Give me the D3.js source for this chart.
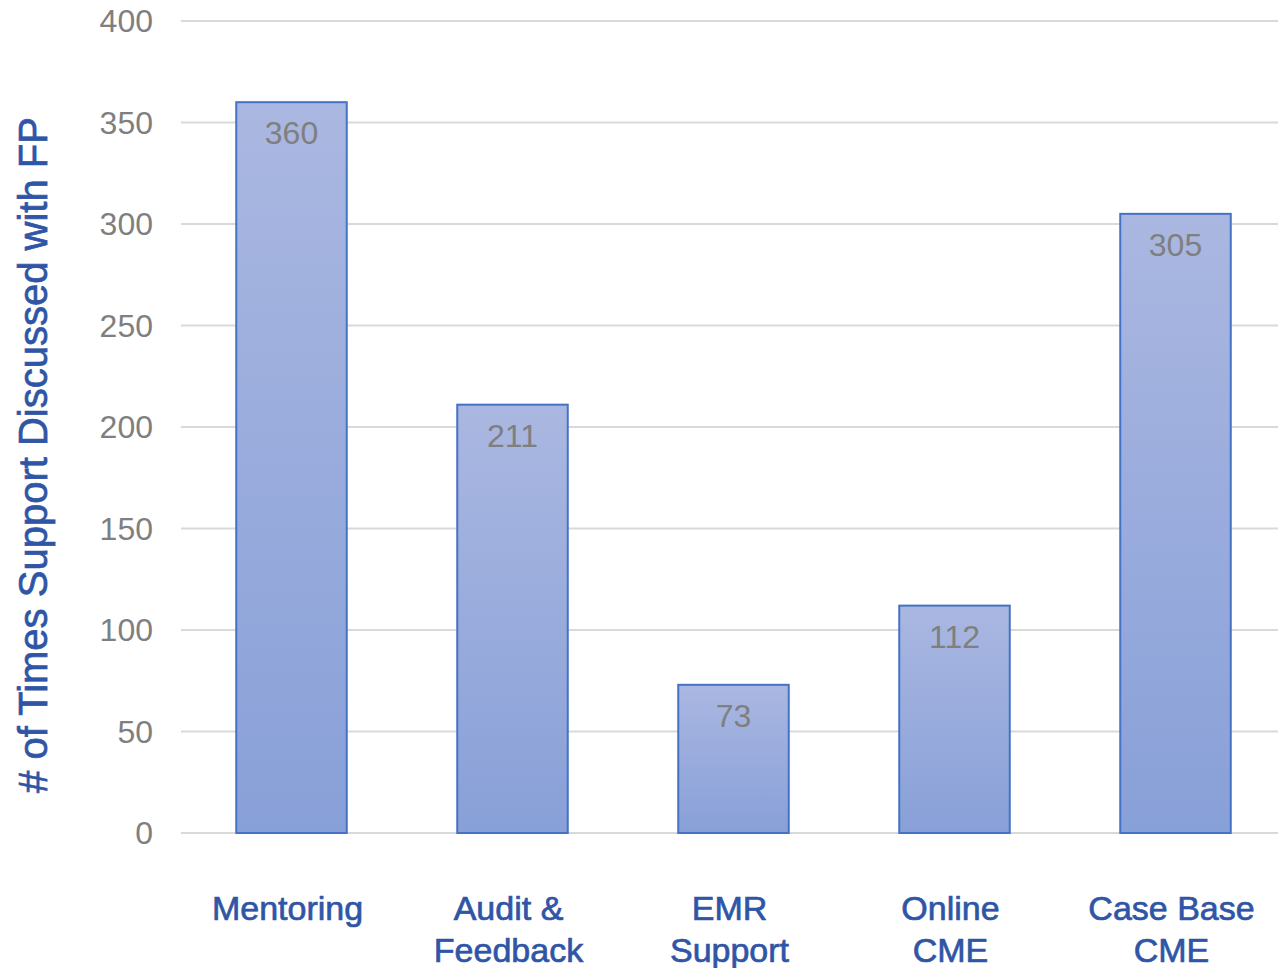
<!DOCTYPE html>
<meta charset="utf-8">
<style>
  body { margin: 0; background: #fff; }
  svg text { font-family: "Liberation Sans", Arial, sans-serif; }
  .grid line { stroke: #d9d9d9; stroke-width: 2px; }
  .bars rect { stroke: #4472c4; stroke-width: 2px; }
  .blue { fill: #2f55a6; stroke: #2f55a6; stroke-width: 0.7px; }
</style>
<svg width="1278" height="968"></svg>
<script src="https://d3js.org/d3.v7.min.js"></script>
<script>
  // data
  var categories = [["Mentoring"], ["Audit &", "Feedback"], ["EMR", "Support"], ["Online", "CME"], ["Case Base", "CME"]];
  var values = [360, 211, 73, 112, 305];
  var yTicks = [0, 50, 100, 150, 200, 250, 300, 350, 400];

  var svg = d3.select("svg");
  var plotLeft = 181, plotRight = 1286, plotTop = 21, plotBottom = 833;

  var x = d3.scaleBand()
    .domain(d3.range(values.length))
    .range([plotLeft, plotRight])
    .paddingInner(0.5)
    .paddingOuter(0.25);

  var y = d3.scaleLinear().domain([0, 400]).range([plotBottom, plotTop]);

  var defs = svg.append("defs");
  var grad = defs.append("linearGradient")
    .attr("id", "barGrad")
    .attr("x1", 0).attr("y1", 0).attr("x2", 0).attr("y2", 1);
  grad.append("stop").attr("offset", "0%").attr("stop-color", "#aab7e1");
  grad.append("stop").attr("offset", "100%").attr("stop-color", "#88a0d8");

  // gridlines
  svg.append("g")
    .attr("class", "grid")
    .selectAll("line")
    .data(yTicks)
    .enter().append("line")
    .attr("x1", plotLeft).attr("x2", 1278)
    .attr("y1", function(d) { return y(d); })
    .attr("y2", function(d) { return y(d); });

  // tick labels
  svg.append("g")
    .selectAll("text")
    .data(yTicks)
    .enter().append("text")
    .attr("x", 153)
    .attr("y", function(d) { return y(d); })
    .attr("dy", "0.35em")
    .attr("text-anchor", "end")
    .attr("fill", "#7f7f7f")
    .style("font-size", "32px")
    .text(function(d) { return d; });

  // bars
  svg.append("g")
    .attr("class", "bars")
    .selectAll("rect")
    .data(values)
    .enter().append("rect")
    .attr("x", function(d, i) { return x(i); })
    .attr("y", function(d) { return y(d); })
    .attr("width", x.bandwidth())
    .attr("height", function(d) { return y(0) - y(d); })
    .attr("fill", "url(#barGrad)");

  // value labels
  svg.append("g")
    .selectAll("text")
    .data(values)
    .enter().append("text")
    .attr("x", function(d, i) { return x(i) + x.bandwidth() / 2; })
    .attr("y", function(d) { return y(d) + 31; })
    .attr("dy", "0.35em")
    .attr("text-anchor", "middle")
    .attr("fill", "#7f7f7f")
    .style("font-size", "32px")
    .text(function(d) { return d; });

  // category labels
  var cat = svg.append("g")
    .selectAll("text")
    .data(categories)
    .enter().append("text")
    .attr("class", "blue")
    .attr("text-anchor", "middle")
    .style("font-size", "34px")
    .attr("transform", function(d, i) {
      return "translate(" + (x(i) + x.bandwidth() / 2 - 4) + ",0)";
    });
  cat.selectAll("tspan")
    .data(function(d) { return d; })
    .enter().append("tspan")
    .attr("x", 0)
    .attr("y", function(d, j) { return 908 + j * 42; })
    .attr("dy", "0.35em")
    .text(function(d) { return d; });

  // y axis title
  svg.append("text")
    .attr("class", "blue")
    .attr("transform", "translate(33," + 455 + ") rotate(-90)")
    .attr("text-anchor", "middle")
    .attr("dy", "0.35em")
    .style("font-size", "40px")
    .text("# of Times Support Discussed with FP");
</script>
